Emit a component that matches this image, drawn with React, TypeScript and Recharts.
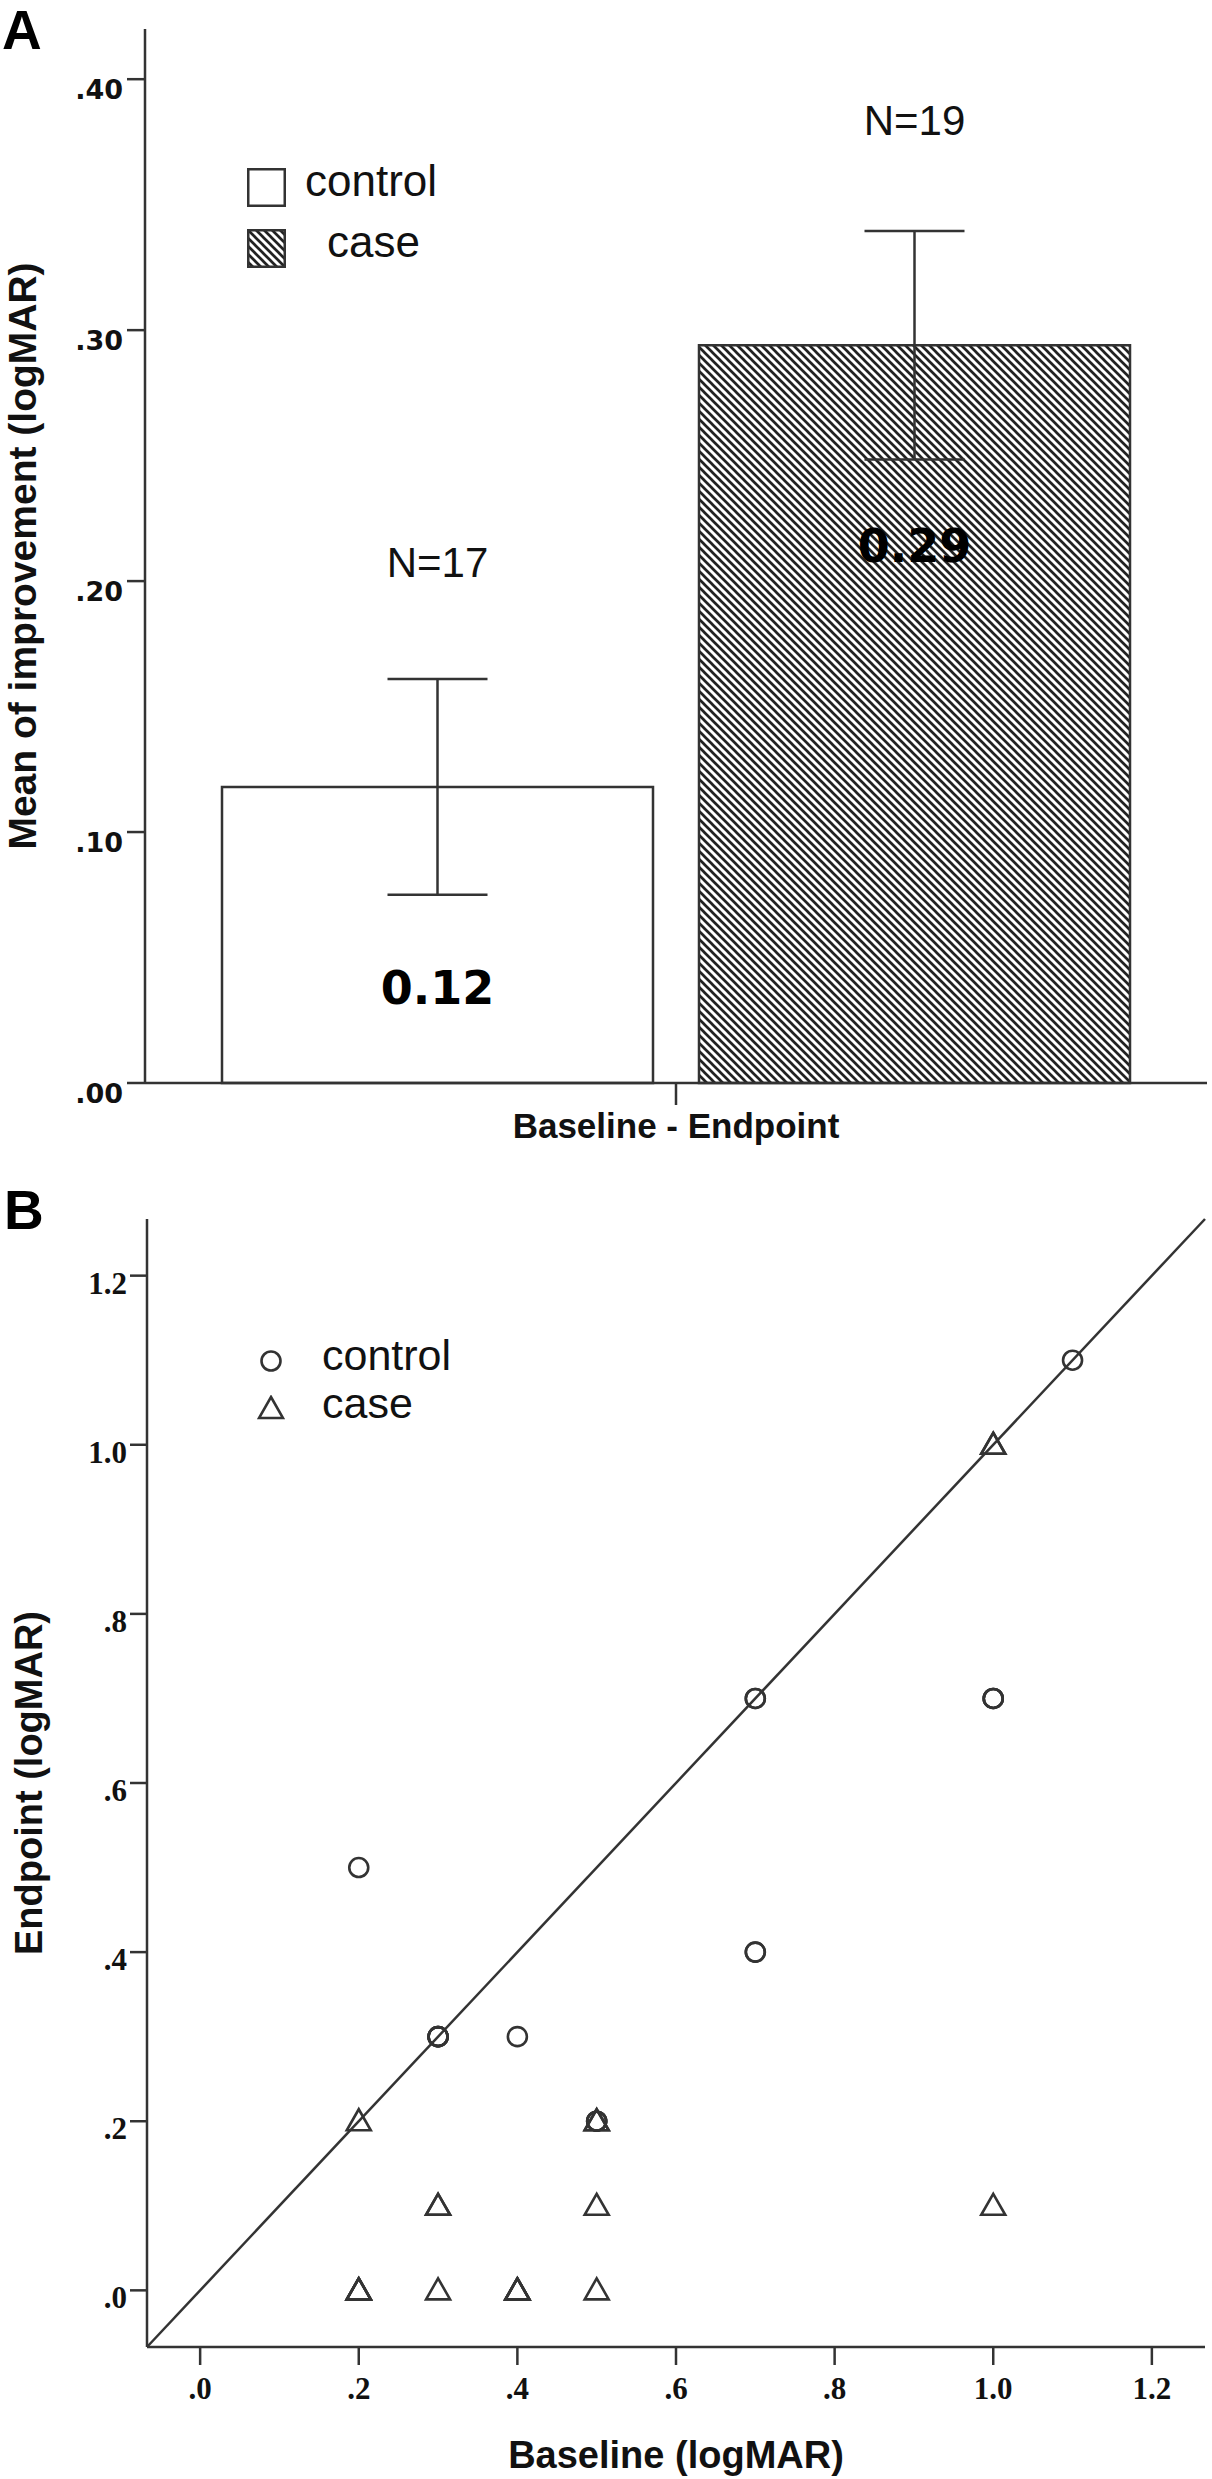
import React from 'react';
import {
  ComposedChart,
  Bar,
  ErrorBar,
  LabelList,
  XAxis,
  YAxis,
  Legend,
  ScatterChart,
  Scatter,
  ReferenceLine,
} from 'recharts';

// Panel A: mean improvement (baseline - endpoint)
const groups = ['control', 'case'];
const meanImprovement = [0.118, 0.294];
const errorMargin = [0.043, 0.0455];
const sampleSizes = [17, 19];
const categoryName = 'Baseline - Endpoint';
const improvementTicks = [0, 0.1, 0.2, 0.3, 0.4];
const improvementMax = 0.42;

// Panel B: baseline vs endpoint per eye
const controlBaseline = [0.2, 0.3, 0.3, 0.3, 0.3, 0.4, 0.5, 0.5, 0.5, 0.7, 0.7, 0.7, 0.7, 1.0, 1.0, 1.0, 1.1];
const controlEndpoint = [0.5, 0.3, 0.3, 0.3, 0.3, 0.3, 0.2, 0.2, 0.2, 0.7, 0.7, 0.4, 0.4, 0.7, 0.7, 0.7, 1.1];
const caseBaseline = [0.2, 0.2, 0.2, 0.2, 0.2, 0.3, 0.3, 0.3, 0.4, 0.4, 0.4, 0.4, 0.5, 0.5, 0.5, 0.5, 1.0, 1.0, 1.0];
const caseEndpoint = [0.2, 0.0, 0.0, 0.0, 0.0, 0.1, 0.1, 0.0, 0.0, 0.0, 0.0, 0.0, 0.2, 0.2, 0.1, 0.0, 0.1, 1.0, 1.0];
const logmarTicks = [0, 0.2, 0.4, 0.6, 0.8, 1.0, 1.2];
const logmarDomain: [number, number] = [-0.067, 1.267];

const SANS = '"Liberation Sans", Arial, Helvetica, sans-serif';
const SERIF = '"Liberation Serif", "Times New Roman", serif';
const WIDE = '"DejaVu Sans", Verdana, sans-serif';
const INK = '#333';
const TEXT = '#111';

const barRow: Record<string, string | number> = { name: categoryName };
groups.forEach((g, i) => {
  barRow[g] = meanImprovement[i];
  barRow[g + 'Err'] = errorMargin[i];
  barRow[g + 'N'] = sampleSizes[i];
});
const barData = [barRow];

const controlPoints = controlBaseline.map((x, i) => ({ x, y: controlEndpoint[i] }));
const casePoints = caseBaseline.map((x, i) => ({ x, y: caseEndpoint[i] }));

const fmtA = (v: number) => v.toFixed(2).replace(/^0/, '');
const fmtB = (v: number) => (v < 1 ? v.toFixed(1).replace(/^0/, '') : v.toFixed(1));

// legend keeps the series order (control first)
const inGroupOrder = (payload: any[] = []) =>
  [...payload].sort((a, b) => groups.indexOf(a.value) - groups.indexOf(b.value));

function Hatch({ id }: { id: string }) {
  return (
    <pattern id={id} patternUnits="userSpaceOnUse" width={8} height={8}>
      <rect width={8} height={8} fill="#fff" />
      <path d="M0,0 L8,8 M-4,4 L4,12 M4,-4 L12,4" stroke="#222" strokeWidth={2.7} />
    </pattern>
  );
}

function BarLegend({ payload }: any) {
  return (
    <div style={{ fontFamily: SANS, fontSize: 44, color: TEXT }}>
      {inGroupOrder(payload).map((entry: any, i: number) => (
        <div key={entry.value} style={{ display: 'flex', alignItems: 'flex-start', height: 61 }}>
          <svg width={39} height={39} style={{ marginTop: 8, flex: 'none' }}>
            <defs>
              <Hatch id={'legendHatch' + i} />
            </defs>
            <rect
              x={1.25}
              y={1.25}
              width={36.5}
              height={36.5}
              fill={entry.value === 'case' ? `url(#legendHatch${i})` : '#fff'}
              stroke={INK}
              strokeWidth={2.5}
            />
          </svg>
          <span style={{ lineHeight: '44px', marginTop: -1, marginLeft: i === 1 ? 41 : 19 }}>{entry.value}</span>
        </div>
      ))}
    </div>
  );
}

const CircleMark = (props: any) => (
  <circle cx={props.cx} cy={props.cy} r={9.5} fill="none" stroke={INK} strokeWidth={2.6} />
);

const TriangleMark = (props: any) => {
  const { cx, cy } = props;
  return (
    <path
      d={`M${cx},${cy - 12} L${cx + 12},${cy + 9} L${cx - 12},${cy + 9} Z`}
      fill="none"
      stroke={INK}
      strokeWidth={2.6}
    />
  );
};

function ScatterLegend({ payload }: any) {
  return (
    <div style={{ fontFamily: SANS, fontSize: 43, color: TEXT }}>
      {inGroupOrder(payload).map((entry: any) => (
        <div key={entry.value} style={{ display: 'flex', alignItems: 'flex-start', height: 48 }}>
          <svg width={28} height={28} style={{ marginTop: 13, flex: 'none' }}>
            {entry.value === 'case' ? (
              <path d="M14,2 L26,23 L2,23 Z" fill="none" stroke={INK} strokeWidth={2.6} />
            ) : (
              <circle cx={14} cy={14} r={9.5} fill="none" stroke={INK} strokeWidth={2.6} />
            )}
          </svg>
          <span style={{ lineHeight: '43px', marginLeft: 37 }}>{entry.value}</span>
        </div>
      ))}
    </div>
  );
}

const axisLine = { stroke: INK, strokeWidth: 2.5 };
const tickLine = { stroke: INK, strokeWidth: 2.5 };

function BarPanel() {
  return (
    <ComposedChart
      width={1212}
      height={1150}
      data={barData}
      margin={{ top: 29, right: 5, bottom: 0, left: 0 }}
      barCategoryGap={77}
      barGap={46}
    >
      <defs>
        <Hatch id="caseHatch" />
      </defs>
      <XAxis
        dataKey="name"
        height={67}
        tickSize={22}
        tickMargin={8}
        axisLine={axisLine}
        tickLine={tickLine}
        tick={{ fill: TEXT, fontFamily: SANS, fontSize: 35, fontWeight: 700 }}
      />
      <XAxis xAxisId="frameTop" dataKey="name" orientation="top" height={0} tick={false} tickLine={false} axisLine={axisLine} />
      <YAxis
        width={145}
        domain={[0, improvementMax]}
        ticks={improvementTicks}
        tickFormatter={fmtA}
        tickSize={18}
        tickMargin={4}
        axisLine={axisLine}
        tickLine={tickLine}
        tick={{ fill: TEXT, fontFamily: WIDE, fontSize: 27, fontWeight: 700, dy: 10 }}
        label={{
          value: 'Mean of improvement (logMAR)',
          angle: -90,
          position: 'insideLeft',
          offset: 22,
          style: { textAnchor: 'middle', fontFamily: SANS, fontSize: 39, fontWeight: 700, fill: TEXT },
        }}
      />
      <YAxis
        yAxisId="frameRight"
        orientation="right"
        width={0}
        domain={[0, improvementMax]}
        tick={false}
        tickLine={false}
        axisLine={axisLine}
      />
      <Legend
        layout="vertical"
        align="center"
        verticalAlign="middle"
        content={<BarLegend />}
        wrapperStyle={{ left: 247, top: 160, width: 320, height: 122 }}
      />
      {groups.map((g) => (
        <Bar
          key={g}
          dataKey={g}
          name={g}
          fill={g === 'case' ? 'url(#caseHatch)' : '#fff'}
          stroke={INK}
          strokeWidth={2.5}
          isAnimationActive={false}
        >
          <ErrorBar dataKey={g + 'Err'} width={50} stroke={INK} strokeWidth={2.5} direction="y" />
          <LabelList
            dataKey={g}
            position="insideTop"
            offset={184}
            formatter={(v: any) => Number(v).toFixed(2)}
            fill="#000"
            fontFamily={WIDE}
            fontSize={46}
            fontWeight={700}
          />
          <LabelList
            dataKey={g + 'N'}
            position="top"
            offset={210}
            formatter={(n: any) => `N=${n}`}
            fill={TEXT}
            fontFamily={SANS}
            fontSize={42}
          />
        </Bar>
      ))}
    </ComposedChart>
  );
}

function ScatterPanel() {
  return (
    <ScatterChart width={1212} height={1329} margin={{ top: 69, right: 7, bottom: 0, left: 0 }}>
      <XAxis
        type="number"
        dataKey="x"
        domain={logmarDomain}
        ticks={logmarTicks}
        allowDataOverflow
        height={132}
        tickSize={18}
        tickMargin={12}
        tickFormatter={fmtB}
        axisLine={axisLine}
        tickLine={tickLine}
        tick={{ fill: TEXT, fontFamily: SERIF, fontSize: 31, fontWeight: 700 }}
        label={{
          value: 'Baseline (logMAR)',
          position: 'insideBottom',
          offset: 11,
          style: { fontFamily: SANS, fontSize: 38, fontWeight: 700, fill: TEXT },
        }}
      />
      <XAxis
        xAxisId="frameTop"
        type="number"
        orientation="top"
        domain={logmarDomain}
        allowDataOverflow
        height={0}
        tick={false}
        tickLine={false}
        axisLine={axisLine}
      />
      <YAxis
        type="number"
        dataKey="y"
        domain={logmarDomain}
        ticks={logmarTicks}
        allowDataOverflow
        width={147}
        tickSize={17}
        tickMargin={3}
        tickFormatter={fmtB}
        axisLine={axisLine}
        tickLine={tickLine}
        tick={{ fill: TEXT, fontFamily: SERIF, fontSize: 31, fontWeight: 700, dy: 7 }}
        label={{
          value: 'Endpoint (logMAR)',
          angle: -90,
          position: 'insideLeft',
          offset: 29,
          style: { textAnchor: 'middle', fontFamily: SANS, fontSize: 38, fontWeight: 700, fill: TEXT },
        }}
      />
      <YAxis
        yAxisId="frameRight"
        type="number"
        orientation="right"
        domain={logmarDomain}
        allowDataOverflow
        width={0}
        tick={false}
        tickLine={false}
        axisLine={axisLine}
      />
      <ReferenceLine
        segment={[
          { x: logmarDomain[0], y: logmarDomain[0] },
          { x: logmarDomain[1], y: logmarDomain[1] },
        ]}
        stroke={INK}
        strokeWidth={2.5}
        ifOverflow="visible"
      />
      <Scatter name="control" data={controlPoints} shape={CircleMark} isAnimationActive={false} />
      <Scatter name="case" data={casePoints} shape={TriangleMark} isAnimationActive={false} />
      <Legend
        layout="vertical"
        align="center"
        verticalAlign="middle"
        content={<ScatterLegend />}
        wrapperStyle={{ left: 257, top: 184, width: 320, height: 100 }}
      />
    </ScatterChart>
  );
}

export default function App() {
  const letter: React.CSSProperties = {
    position: 'absolute',
    fontFamily: SANS,
    fontWeight: 700,
    fontSize: 55,
    lineHeight: '55px',
    color: '#000',
  };
  return (
    <div style={{ position: 'absolute', left: 0, top: 0, width: 1212, height: 2479, background: '#fff', overflow: 'hidden' }}>
      <div style={{ position: 'absolute', left: 0, top: 0 }}>
        <BarPanel />
      </div>
      <div style={{ position: 'absolute', left: 0, top: 1150 }}>
        <ScatterPanel />
      </div>
      <div style={{ ...letter, left: 2, top: 3 }}>A</div>
      <div style={{ ...letter, left: 4, top: 1183 }}>B</div>
    </div>
  );
}
